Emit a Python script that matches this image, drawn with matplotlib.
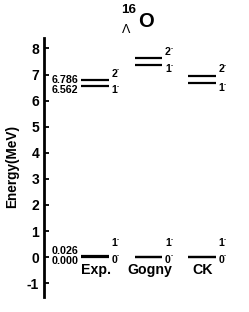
import matplotlib
matplotlib.use("Agg")
import matplotlib.pyplot as plt

plt.rcParams['font.family'] = ['Liberation Sans', 'DejaVu Sans']
plt.rcParams['font.weight'] = 'bold'
plt.rcParams['axes.unicode_minus'] = False

# ---- data ----
models = ["Exp.", "Gogny", "CK"]
ground_lower = [0.000, 0.00, 0.00]   # 0- level
ground_upper = [0.026, 0.02, 0.02]   # 1- level
excited_lower = [6.562, 7.36, 6.66]  # 1- level
excited_upper = [6.786, 7.62, 6.95]  # 2- level
ground_labels = ["0", "1"]
excited_labels = ["1", "2"]
parity = "-"
exp_values_lower = ["0.000", "6.562"]
exp_values_upper = ["0.026", "6.786"]
yticks = [-1, 0, 1, 2, 3, 4, 5, 6, 7, 8]

W, H = 249, 312
fig = plt.figure(figsize=(W / 100, H / 100), dpi=100)
px = 72 / 100  # points per pixel

ax_l, ax_r, ax_t, ax_b = 44, 240, 38, 297
ax = fig.add_axes([ax_l / W, (H - ax_b) / H, (ax_r - ax_l) / W, (ax_b - ax_t) / H])
spacing = 53.5
x0 = 95
ax.set_xlim(-(x0 - ax_l) / spacing, (ax_r - x0) / spacing)
ax.set_ylim(-1.53, 8.4)

for s in ['top', 'right', 'bottom']:
    ax.spines[s].set_visible(False)
ax.spines['left'].set_linewidth(2.0)
ax.set_xticks([])
ax.set_yticks(yticks)
ax.set_yticklabels([str(t) for t in yticks], fontsize=10, fontweight='bold')
ax.tick_params(axis='y', direction='in', length=3.5, width=1.3, pad=3.5)

hw = 0.26
lw = 1.6
lab_fs = 7.6


def spin_label(x, y, txt, dy_px):
    ax.annotate(txt, (x, y), xytext=(2.5 * px, dy_px * px), textcoords='offset points',
                ha='left', va='baseline', fontsize=lab_fs, fontweight='bold')
    ax.annotate(parity, (x, y), xytext=(8.3 * px, (dy_px + 5.0) * px),
                textcoords='offset points', ha='left', va='baseline',
                fontsize=4.5, fontweight='bold')


for i, m in enumerate(models):
    for e in (ground_lower[i], ground_upper[i], excited_lower[i], excited_upper[i]):
        ax.plot([i - hw, i + hw], [e, e], color='black', lw=lw, solid_capstyle='butt')
    spin_label(i + hw, ground_upper[i], ground_labels[1], 10.5)
    spin_label(i + hw, ground_lower[i], ground_labels[0], -5.5)
    spin_label(i + hw, excited_upper[i], excited_labels[1], 3.5)
    spin_label(i + hw, excited_lower[i], excited_labels[0], -7.3)
    ax.annotate(m, (i + 0.02, ground_lower[i]), xytext=(0, -17.3 * px), textcoords='offset points',
                ha='center', va='baseline', fontsize=10.2, fontweight='bold')

# experimental values on the left
val_fs = 7.7
ax.annotate(exp_values_upper[0], (-hw, ground_upper[0]), xytext=(-2.5 * px, 2.0 * px),
            textcoords='offset points', ha='right', va='baseline', fontsize=val_fs)
ax.annotate(exp_values_lower[0], (-hw, ground_lower[0]), xytext=(-2.5 * px, -6.5 * px),
            textcoords='offset points', ha='right', va='baseline', fontsize=val_fs)
ax.annotate(exp_values_upper[1], (-hw, excited_upper[0]), xytext=(-2.5 * px, -2.6 * px),
            textcoords='offset points', ha='right', va='baseline', fontsize=val_fs)
ax.annotate(exp_values_lower[1], (-hw, excited_lower[0]), xytext=(-2.5 * px, -7.0 * px),
            textcoords='offset points', ha='right', va='baseline', fontsize=val_fs)

fig.text(11.7 / W, 1 - 166 / H, 'Energy(MeV)', rotation=90, ha='center', va='center',
         fontsize=9.8, fontweight='bold')

# title
fig.text(121.5 / W, 1 - 12.7 / H, '16', ha='left', va='baseline', fontsize=9.7, fontweight='bold')
fig.text(122.0 / W, 1 - 33.3 / H, 'Λ', ha='left', va='baseline', fontsize=9, fontweight='normal')
fig.text(138.5 / W, 1 - 26.7 / H, 'O', ha='left', va='baseline', fontsize=14.5, fontweight='bold')

fig.savefig('out.png', dpi=100)
